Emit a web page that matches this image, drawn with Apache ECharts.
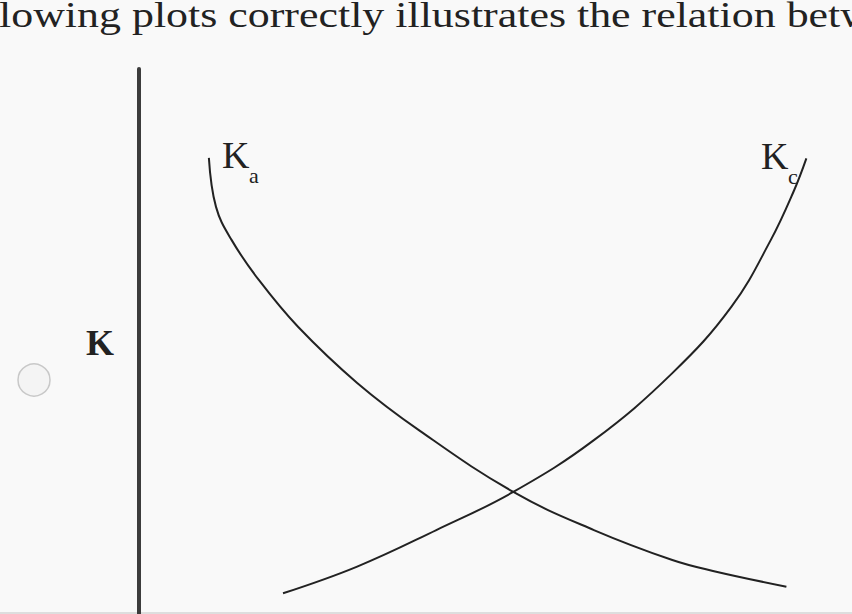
<!DOCTYPE html>
<html>
<head>
<meta charset="utf-8">
<style>
  html, body { margin: 0; padding: 0; background: #f9f9f9; }
  #chart { width: 852px; height: 614px; }
</style>
<script src="https://cdn.jsdelivr.net/npm/echarts@6/dist/echarts.min.js"></script>
</head>
<body>
<div id="chart"></div>
<script>
// curve points, in axis units (0-10 each way)
var kaX = [0.98, 1.08, 1.30, 1.68, 2.23, 3.06, 3.94, 5.25, 6.38, 7.48, 8.05, 9.08];
var kaY = [8.37, 7.47, 6.86, 6.13, 5.27, 4.24, 3.36, 2.24, 1.54, 0.99, 0.79, 0.50];
var kcX = [2.02, 3.06, 4.17, 5.25, 6.38, 7.48, 8.31, 8.86, 9.19, 9.36];
var kcY = [0.38, 0.87, 1.54, 2.24, 3.19, 4.42, 5.64, 6.86, 7.78, 8.36];

function pairs(xs, ys) {
  return xs.map(function(x, i) { return [x, ys[i]]; });
}

var serif = '"Liberation Serif", "DejaVu Serif", serif';
var ink = '#222';

var chart = echarts.init(document.getElementById('chart'), null, { renderer: 'svg' });
chart.setOption({
  animation: false,
  backgroundColor: '#f9f9f9',
  grid: { left: 139, right: 0, top: 69, bottom: 0 },
  xAxis: {
    type: 'value', min: 0, max: 10,
    show: false
  },
  yAxis: {
    type: 'value', min: 0, max: 10,
    axisLine: { show: true, lineStyle: { color: '#3c3c3c', width: 4 } },
    axisTick: { show: false },
    axisLabel: { show: false },
    splitLine: { show: false }
  },
  series: [
    {
      name: 'Ka', type: 'line', smooth: 0.4, symbol: 'none',
      lineStyle: { color: ink, width: 2 },
      data: pairs(kaX, kaY)
    },
    {
      name: 'Kc', type: 'line', smooth: 0.4, symbol: 'none',
      lineStyle: { color: ink, width: 2 },
      data: pairs(kcX, kcY)
    }
  ],
  graphic: [
    // heading cut off at the top (the source is stretched sideways)
    { type: 'text', x: -1, y: -3, scaleX: 1.22, style: { text: 'lowing plots correctly illustrates the relation betw', font: '36px ' + serif, fill: ink } },
    // curve labels
    { type: 'text', x: 222, y: 174, style: { text: 'K', font: '38px ' + serif, fill: ink, textVerticalAlign: 'bottom' } },
    { type: 'text', x: 249, y: 186, style: { text: 'a', font: '22px ' + serif, fill: ink, textVerticalAlign: 'bottom' } },
    { type: 'text', x: 761, y: 175, style: { text: 'K', font: '38px ' + serif, fill: ink, textVerticalAlign: 'bottom' } },
    { type: 'text', x: 788, y: 187, style: { text: 'c', font: '22px ' + serif, fill: ink, textVerticalAlign: 'bottom' } },
    // axis name
    { type: 'text', x: 86, y: 361, style: { text: 'K', font: 'bold 36px ' + serif, fill: ink, textVerticalAlign: 'bottom' } },
    // radio button
    { type: 'circle', shape: { cx: 34, cy: 380, r: 16 }, style: { fill: '#f4f4f4', stroke: '#c8c8c8', lineWidth: 1.5 } },
    // faint rule at the bottom edge
    { type: 'rect', shape: { x: 0, y: 612, width: 852, height: 2 }, style: { fill: '#dedede' } }
  ]
});
</script>
</body>
</html>
